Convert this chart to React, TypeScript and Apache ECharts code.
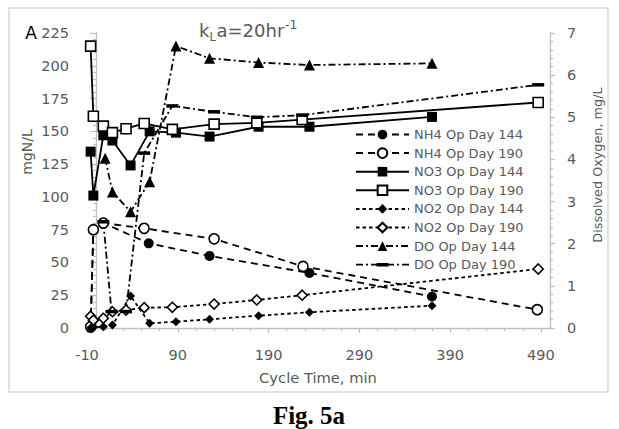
import React, { useEffect, useRef } from "react";
import * as echarts from "echarts";

// ---- data ----
const nh4Day144Time = [-6, -3, 8, 58, 125, 235, 370];
const nh4Day144 = [0, 75, 80, 64.6, 55, 42, 24];
const nh4Day190Time = [-6, -3, 8, 53, 130, 228, 486];
const nh4Day190 = [1, 75, 80, 76, 68, 47, 14];

const no3Day144Time = [-6, -3, 8, 18, 38, 59, 88, 125, 179, 235, 370];
const no3Day144 = [134.5, 101, 147, 143, 124, 150, 149, 146, 153.5, 153.5, 161];
const no3Day190Time = [-6, -3, 8, 18, 33, 53, 84, 130, 177, 227, 487];
const no3Day190 = [215, 161.5, 154, 149, 152, 156, 151.5, 155.5, 156.5, 159, 172];

const no2Day144Time = [-6, -3, 8, 18, 38, 59, 88, 125, 179, 235, 370];
const no2Day144 = [0, 0.5, 1, 2.3, 24.4, 3.6, 4.8, 6.6, 9.4, 12, 17];
const no2Day190Time = [-6, -3, 8, 18, 33, 53, 84, 130, 177, 227, 487];
const no2Day190 = [9, 6, 7.4, 12.4, 13.7, 15.5, 15.8, 18.3, 21.4, 25, 45];

const doDay144Time = [10, 18, 38, 59, 88, 125, 179, 235, 370];
const doDay144 = [4.03, 3.23, 2.76, 3.47, 6.69, 6.4, 6.3, 6.24, 6.28];
const doDay190Time = [8, 17, 33, 53, 84, 130, 177, 227, 487];
const doDay190 = [2.52, 0.39, 0.39, 4.15, 5.27, 5.13, 5.0, 5.05, 5.77];

const seriesNames = [
  "NH4 Op Day 144",
  "NH4 Op Day 190",
  "NO3 Op Day 144",
  "NO3 Op Day 190",
  "NO2 Op Day 144",
  "NO2 Op Day 190",
  "DO Op Day 144",
  "DO Op Day 190",
];

const xMajorTicks = [-10, 90, 190, 290, 390, 490];
const xMinorTicks = [10, 30, 50, 70, 110, 130, 150, 170, 210, 230, 250, 270, 310, 330, 350, 370, 410, 430, 450, 470];

const FONT = "DejaVu Sans";
const GRAY = "#595959";
const AXIS = "#bfbfbf";

const pairs = (t: number[], v: number[]) => t.map((x, i) => [x, v[i]]);

const DASH = [7, 5];
const SHORT = [3.5, 3];
const DASHDOT = [7, 3, 2, 3];

function mk(name: string, t: number[], v: number[], symbol: string, size: any, open: boolean, dash: any, yAxisIndex = 0) {
  return {
    type: "line",
    name,
    data: pairs(t, v),
    yAxisIndex,
    symbol,
    symbolSize: size,
    showSymbol: true,
    itemStyle: open
      ? { color: "#ffffff", borderColor: "#000000", borderWidth: 1.6 }
      : { color: "#000000", borderColor: "#000000", borderWidth: 0 },
    lineStyle: { color: "#000000", width: 1.8, type: dash },
    emphasis: { disabled: true },
  };
}

// legend icon for the DO Op Day 190 entry: dash-dot line with a bar marker in the middle
const doDashLegendIcon =
  "path://M0,0.85 H7 V2.65 H0 Z M10,0.85 H12 V2.65 H10 Z M15,0.85 H20.5 V0 H32.5 V0.85 H38 V2.65 H32.5 V3.5 H20.5 V2.65 H15 Z M41,0.85 H43 V2.65 H41 Z M46,0.85 H53 V2.65 H46 Z";

export default function App() {
  const ref = useRef<HTMLDivElement>(null);
  useEffect(() => {
    if (!ref.current) return;
    const chart = echarts.init(ref.current, null, { renderer: "svg" });
    const option: any = {
      animation: false,
      grid: { left: 87, right: 69, top: 33, bottom: 101, containLabel: false },
      legend: {
        orient: "vertical",
        left: 355,
        top: 127,
        padding: 0,
        itemWidth: 53,
        itemHeight: 12,
        itemGap: 3.6,
        textStyle: { color: GRAY, fontSize: 13, fontFamily: FONT, lineHeight: 15 },
        data: seriesNames.map((n) =>
          n === "DO Op Day 190" ? { name: n, icon: doDashLegendIcon, itemStyle: { color: "#000000" } } : n
        ),
      },
      xAxis: [
        {
          type: "value",
          min: -10,
          max: 500,
          axisLine: { show: true, onZero: true, lineStyle: { color: AXIS, width: 1.3 } },
          axisTick: { show: true, customValues: xMajorTicks, length: 5, lineStyle: { color: AXIS, width: 1.3 } },
          axisLabel: { customValues: xMajorTicks, color: GRAY, fontSize: 14.5, fontFamily: FONT, margin: 19 },
          splitLine: { show: false },
        },
        {
          type: "value",
          min: -10,
          max: 500,
          position: "bottom",
          axisLine: { show: false },
          axisTick: { show: true, customValues: xMinorTicks, length: 3, lineStyle: { color: AXIS, width: 1.2 } },
          axisLabel: { show: false },
          splitLine: { show: false },
        },
      ],
      yAxis: [
        {
          type: "value",
          min: 0,
          max: 225,
          interval: 25,
          axisLine: { show: true, onZero: true, onZeroAxisIndex: 0, lineStyle: { color: AXIS, width: 1.3 } },
          axisTick: { show: true, length: 6, lineStyle: { color: AXIS, width: 1.3 } },
          minorTick: { show: true, splitNumber: 5, length: 3, lineStyle: { color: AXIS, width: 1.2 } },
          axisLabel: { color: GRAY, fontSize: 14.5, fontFamily: FONT, margin: 18 },
          splitLine: { show: false },
        },
        {
          type: "value",
          position: "right",
          min: 0,
          max: 7,
          interval: 1,
          axisLine: { show: true, onZero: false, lineStyle: { color: AXIS, width: 1.3 } },
          axisTick: { show: true, length: 5, lineStyle: { color: AXIS, width: 1.3 } },
          minorTick: { show: true, splitNumber: 5, length: 3, lineStyle: { color: AXIS, width: 1.2 } },
          axisLabel: { color: GRAY, fontSize: 14.5, fontFamily: FONT, margin: 17 },
          splitLine: { show: false },
        },
      ],
      series: [
        mk(seriesNames[0], nh4Day144Time, nh4Day144, "circle", 10, false, DASH),
        mk(seriesNames[1], nh4Day190Time, nh4Day190, "circle", 10, true, DASH),
        mk(seriesNames[2], no3Day144Time, no3Day144, "rect", 10, false, "solid"),
        mk(seriesNames[3], no3Day190Time, no3Day190, "rect", 10, true, "solid"),
        mk(seriesNames[4], no2Day144Time, no2Day144, "diamond", 9, false, SHORT),
        mk(seriesNames[5], no2Day190Time, no2Day190, "diamond", 10, true, SHORT),
        mk(seriesNames[6], doDay144Time, doDay144, "triangle", 11, false, DASHDOT, 1),
        mk(seriesNames[7], doDay190Time, doDay190, "rect", [12, 3.5], false, DASHDOT, 1),
      ],
      graphic: [
        { type: "rect", shape: { x: 9, y: 8, width: 599, height: 384 }, style: { fill: "none", stroke: "#d9d9d9", lineWidth: 1.5 }, silent: true },
        { type: "text", x: 31, y: 33, style: { text: "A", font: `17px "${FONT}"`, fill: "#000000", align: "center", verticalAlign: "middle" } },
        { type: "text", x: 199, y: 30, style: { text: "k", font: `18px "${FONT}"`, fill: GRAY, align: "left", verticalAlign: "middle" } },
        { type: "text", x: 209.5, y: 36.5, style: { text: "L", font: `11.5px "${FONT}"`, fill: GRAY, align: "left", verticalAlign: "middle" } },
        { type: "text", x: 216.5, y: 30, style: { text: "a=20hr", font: `18px "${FONT}"`, fill: GRAY, align: "left", verticalAlign: "middle" } },
        { type: "text", x: 285, y: 24, style: { text: "-1", font: `12.5px "${FONT}"`, fill: GRAY, align: "left", verticalAlign: "middle" } },
        { type: "text", x: 27, y: 152, rotation: Math.PI / 2, style: { text: "mgN/L", font: `14px "${FONT}"`, fill: GRAY, align: "center", verticalAlign: "middle" } },
        { type: "text", x: 597, y: 165, rotation: Math.PI / 2, style: { text: "Dissolved Oxygen, mg/L", font: `12.8px "${FONT}"`, fill: GRAY, align: "center", verticalAlign: "middle" } },
        { type: "text", x: 318, y: 377, style: { text: "Cycle Time, min", font: `14.7px "${FONT}"`, fill: GRAY, align: "center", verticalAlign: "middle" } },
        { type: "text", x: 309, y: 415, style: { text: "Fig. 5a", font: `bold 25px "Liberation Serif"`, fill: "#000000", align: "center", verticalAlign: "middle" } },
      ],
    };
    chart.setOption(option);
    return () => chart.dispose();
  }, []);
  return <div ref={ref} style={{ position: "absolute", left: 0, top: 0, width: 619, height: 429 }} />;
}
